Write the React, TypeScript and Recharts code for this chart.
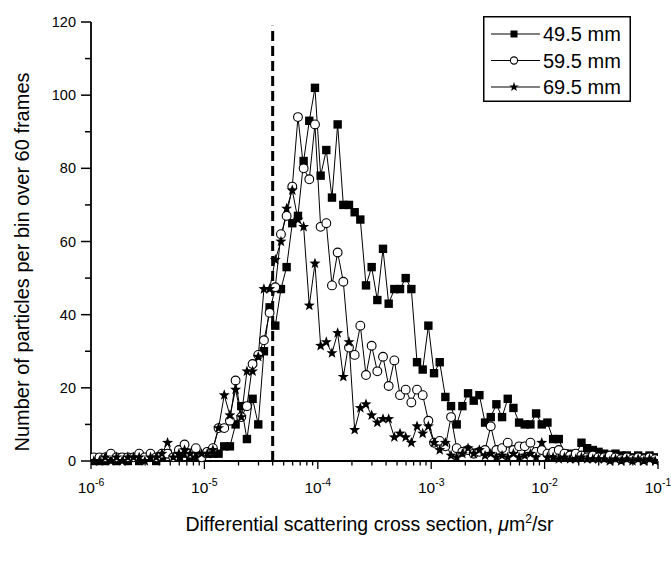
import React from 'react';
import { ComposedChart, Line, XAxis, YAxis, ReferenceLine, Label, Legend } from 'recharts';

const FONT = '"Liberation Sans", Arial, Helvetica, sans-serif';

// Logarithmic bins along the cross-section axis
const BINS_PER_DECADE = 20;
const FIRST_DECADE = -6;

const SERIES_LABELS = ['49.5 mm', '59.5 mm', '69.5 mm'];

// Particles per bin over 60 frames, one entry per bin
const counts49_5 = [
  0, 0, 0, 1, 0, 1, 0, 1, 0, 1, 1, 0, 1, 2, 1, 1, 2, 1, 2, 1, 2, 2,
  2, 4, 4, 10, 15, 6, 17, 10, 30, 42, 37, 47, 53, 65, 67, 82, 93, 102,
  78, 85, 72, 92, 70, 70, 68, 66, 48, 53, 44, 58, 43, 47, 47, 50, 47, 27, 25, 37,
  24, 27, 17.5, 15, 10, 15, 18.5, 16.5, 18, 10.5, 12, 15.5, 12, 17, 14.5, 10.5, 10, 10, 13, 10,
  10.5, 6, 6, 2, 2, 1.5, 5, 3.5, 3, 2.5, 2, 1.5, 2, 1.5, 1.5, 1, 1.5, 1, 1.5, 1,
];

const counts59_5 = [
  1, 1, 1, 2, 1, 1, 1, 1, 2, 1, 2, 1, 2, 2, 1, 3, 4.5, 2, 3.5, 1, 2.5, 3.5,
  9, 9, 11, 22, 12, 15, 26.5, 29, 33, 40.5, 47.5, 62, 67, 75, 94, 80, 77, 92,
  64, 65, 48, 57, 49, 31, 29, 37, 23.5, 31.5, 24.5, 28.5, 20.5, 27.5, 18, 19.5, 16, 19.5, 18, 11,
  5, 5.5, 4, 12, 3.5, 2.5, 3, 2, 2.5, 3, 9.5, 3, 3.5, 5, 3, 4, 4, 5, 2.5, 3,
  2, 2.5, 3, 2, 1.5, 2, 1.5, 1, 1.5, 1, 1, 1.5, 1, 0.5, 1, 0.5, 1, 0.5, 1, 0.5,
];

const counts69_5 = [
  0, 0, 1, 0, 1, 0, 1, 1, 1, 0, 1, 1, 2, 5, 1, 2, 3, 2, 1, 2, 2, 3,
  9, 18, 12.5, 19.5, 12, 24.5, 24.5, 28.5, 47, 47, 55, 60, 69, 74, 66, 64, 42.5, 54,
  31.5, 32.5, 29.5, 35, 23, 32.5, 8.5, 14.5, 15.5, 12.5, 10.5, 11.5, 11.5, 6.5, 7.5, 6.5, 5, 9.5, 7.5, 9.5,
  5, 3, 5, 1.5, 1, 2, 3.5, 2, 3, 1.5, 2, 1, 1.5, 1, 2, 1, 1.5, 2, 1, 5,
  1, 1, 0.5, 1, 0.5, 0.5, 1, 0.5, 0.5, 0.5, 0.5, 0, 0.5, 0, 0.5, 0, 0.5, 0, 0.5, 0,
];

const X_DECADE_EXPONENTS = [-6, -5, -4, -3, -2, -1];
const Y_LABELED_TICKS = [0, 20, 40, 60, 80, 100, 120];
const Y_MINOR_TICKS = [10, 30, 50, 70, 90, 110];
const CUTOFF_SECTION = 4e-5;

const data = counts49_5.map((v, i) => ({
  x: Math.pow(10, FIRST_DECADE + (i + 0.5) / BINS_PER_DECADE),
  d495: v,
  d595: counts59_5[i],
  d695: counts69_5[i],
}));

// decade ticks plus 2..9 minor ticks in each decade
const xTicks: number[] = [];
X_DECADE_EXPONENTS.forEach((e, idx) => {
  xTicks.push(Number(`1e${e}`));
  if (idx < X_DECADE_EXPONENTS.length - 1) {
    for (let k = 2; k <= 9; k++) xTicks.push(Number(`${k}e${e}`));
  }
});
const yTicks = [...Y_LABELED_TICKS, ...Y_MINOR_TICKS].sort((a, b) => a - b);

const isDecade = (v: number) => {
  const l = Math.log10(v);
  return Math.abs(l - Math.round(l)) < 1e-9;
};

const SquareMark = ({ cx, cy, size = 8.4 }: any) => (
  <rect x={cx - size / 2} y={cy - size / 2} width={size} height={size} fill="#000" />
);

const CircleMark = ({ cx, cy, r = 4.4 }: any) => (
  <circle cx={cx} cy={cy} r={r} fill="#fff" stroke="#000" strokeWidth={1.1} />
);

const StarMark = ({ cx, cy, outer = 5.8, inner = 2.4 }: any) => {
  const pts: string[] = [];
  for (let k = 0; k < 10; k++) {
    const r = k % 2 === 0 ? outer : inner;
    const a = -Math.PI / 2 + (k * Math.PI) / 5;
    pts.push(`${cx + r * Math.cos(a)},${cy + r * Math.sin(a)}`);
  }
  return <polygon points={pts.join(' ')} fill="#000" />;
};

const MARKS = [SquareMark, CircleMark, StarMark];

const XTick = ({ x, y, payload }: any) => {
  const v = payload.value;
  const major = isDecade(v);
  const exp = Math.round(Math.log10(v));
  return (
    <g>
      <line x1={x} y1={y} x2={x} y2={y + (major ? 8 : 4.5)} stroke="#000" strokeWidth={1.3} />
      {major && (
        <text x={x} y={y + 32} textAnchor="middle" fontFamily={FONT} fontSize={15.5} fill="#000">
          10
          <tspan dy={-7} fontSize={10.5}>{`${exp}`}</tspan>
        </text>
      )}
    </g>
  );
};

const YTick = ({ x, y, payload }: any) => {
  const v = payload.value;
  const major = v % 20 === 0;
  return (
    <g>
      <line x1={x - (major ? 10 : 6)} y1={y} x2={x} y2={y} stroke="#000" strokeWidth={1.5} />
      {major && (
        <text x={x - 15} y={y} dy={5} textAnchor="end" fontFamily={FONT} fontSize={14.5} fill="#000">
          {v}
        </text>
      )}
    </g>
  );
};

const LegendBox = () => (
  <svg width={148} height={86} style={{ display: 'block' }}>
    <rect x={0.75} y={0.75} width={146.5} height={84.5} fill="#fff" stroke="#000" strokeWidth={1.5} />
    {SERIES_LABELS.map((label, i) => {
      const yy = 18 + i * 26.5;
      const Mark = MARKS[i];
      return (
        <g key={label}>
          <line x1={8} y1={yy} x2={57} y2={yy} stroke="#000" strokeWidth={1} />
          <Mark cx={31} cy={yy} size={7} r={3.6} outer={5} inner={2} />
          <text x={60} y={yy + 7} fontFamily={FONT} fontSize={20} fill="#000">
            {label}
          </text>
        </g>
      );
    })}
  </svg>
);

const makeDot = (i: number) => (p: any) => {
  const Mark = MARKS[i];
  return <Mark key={`m${i}-${p.index}`} cx={p.cx} cy={p.cy} />;
};

export default function App() {
  return (
    <div style={{ position: 'absolute', left: 0, top: 0, width: 671, height: 562, background: '#fff' }}>
      <ComposedChart
        width={671}
        height={562}
        data={data}
        margin={{ top: 22, right: 13, bottom: 0, left: 0 }}
      >
        <XAxis
          dataKey="x"
          type="number"
          scale="log"
          domain={[1e-6, 1e-1]}
          ticks={xTicks}
          interval={0}
          tickSize={0}
          tickMargin={0}
          tickLine={false}
          tick={(p: any) => <XTick {...p} />}
          axisLine={{ stroke: '#000', strokeWidth: 1.8 }}
          height={101}
          allowDataOverflow
        >
          <Label
            content={({ viewBox }: any) => (
              <text
                x={viewBox.x + viewBox.width / 2 - 5}
                y={viewBox.y + 70}
                textAnchor="middle"
                fontFamily={FONT}
                fontSize={19.5}
                fill="#000"
              >
                Differential scattering cross section,{' '}
                <tspan fontStyle="italic">μ</tspan>m
                <tspan dy={-8} fontSize={12}>2</tspan>
                <tspan dy={8}>/sr</tspan>
              </text>
            )}
          />
        </XAxis>
        <YAxis
          type="number"
          domain={[0, 120]}
          ticks={yTicks}
          interval={0}
          tickSize={0}
          tickMargin={0}
          tickLine={false}
          tick={(p: any) => <YTick {...p} />}
          axisLine={{ stroke: '#000', strokeWidth: 1.8 }}
          width={91}
        >
          <Label
            content={() => {
              const cx = 22;
              const cy = 262;
              return (
                <text
                  x={cx}
                  y={cy}
                  transform={`rotate(-90 ${cx} ${cy})`}
                  textAnchor="middle"
                  dominantBaseline="central"
                  fontFamily={FONT}
                  fontSize={20}
                  fill="#000"
                >
                  Number of particles per bin over 60 frames
                </text>
              );
            }}
          />
        </YAxis>
        <ReferenceLine
          segment={[
            { x: CUTOFF_SECTION, y: 0 },
            { x: CUTOFF_SECTION, y: 119 },
          ]}
          stroke="#000"
          strokeWidth={3}
          strokeDasharray="10 5"
        />
        <Line
          dataKey="d495"
          name={SERIES_LABELS[0]}
          type="linear"
          stroke="#000"
          strokeWidth={1}
          dot={makeDot(0)}
          activeDot={false}
          isAnimationActive={false}
        />
        <Line
          dataKey="d595"
          name={SERIES_LABELS[1]}
          type="linear"
          stroke="#000"
          strokeWidth={1}
          dot={makeDot(1)}
          activeDot={false}
          isAnimationActive={false}
        />
        <Line
          dataKey="d695"
          name={SERIES_LABELS[2]}
          type="linear"
          stroke="#000"
          strokeWidth={1}
          dot={makeDot(2)}
          activeDot={false}
          isAnimationActive={false}
        />
        <Legend
          layout="vertical"
          align="center"
          verticalAlign="middle"
          content={() => <LegendBox />}
          wrapperStyle={{ position: 'absolute', left: 483, top: 16, width: 148, height: 86 }}
        />
      </ComposedChart>
    </div>
  );
}
